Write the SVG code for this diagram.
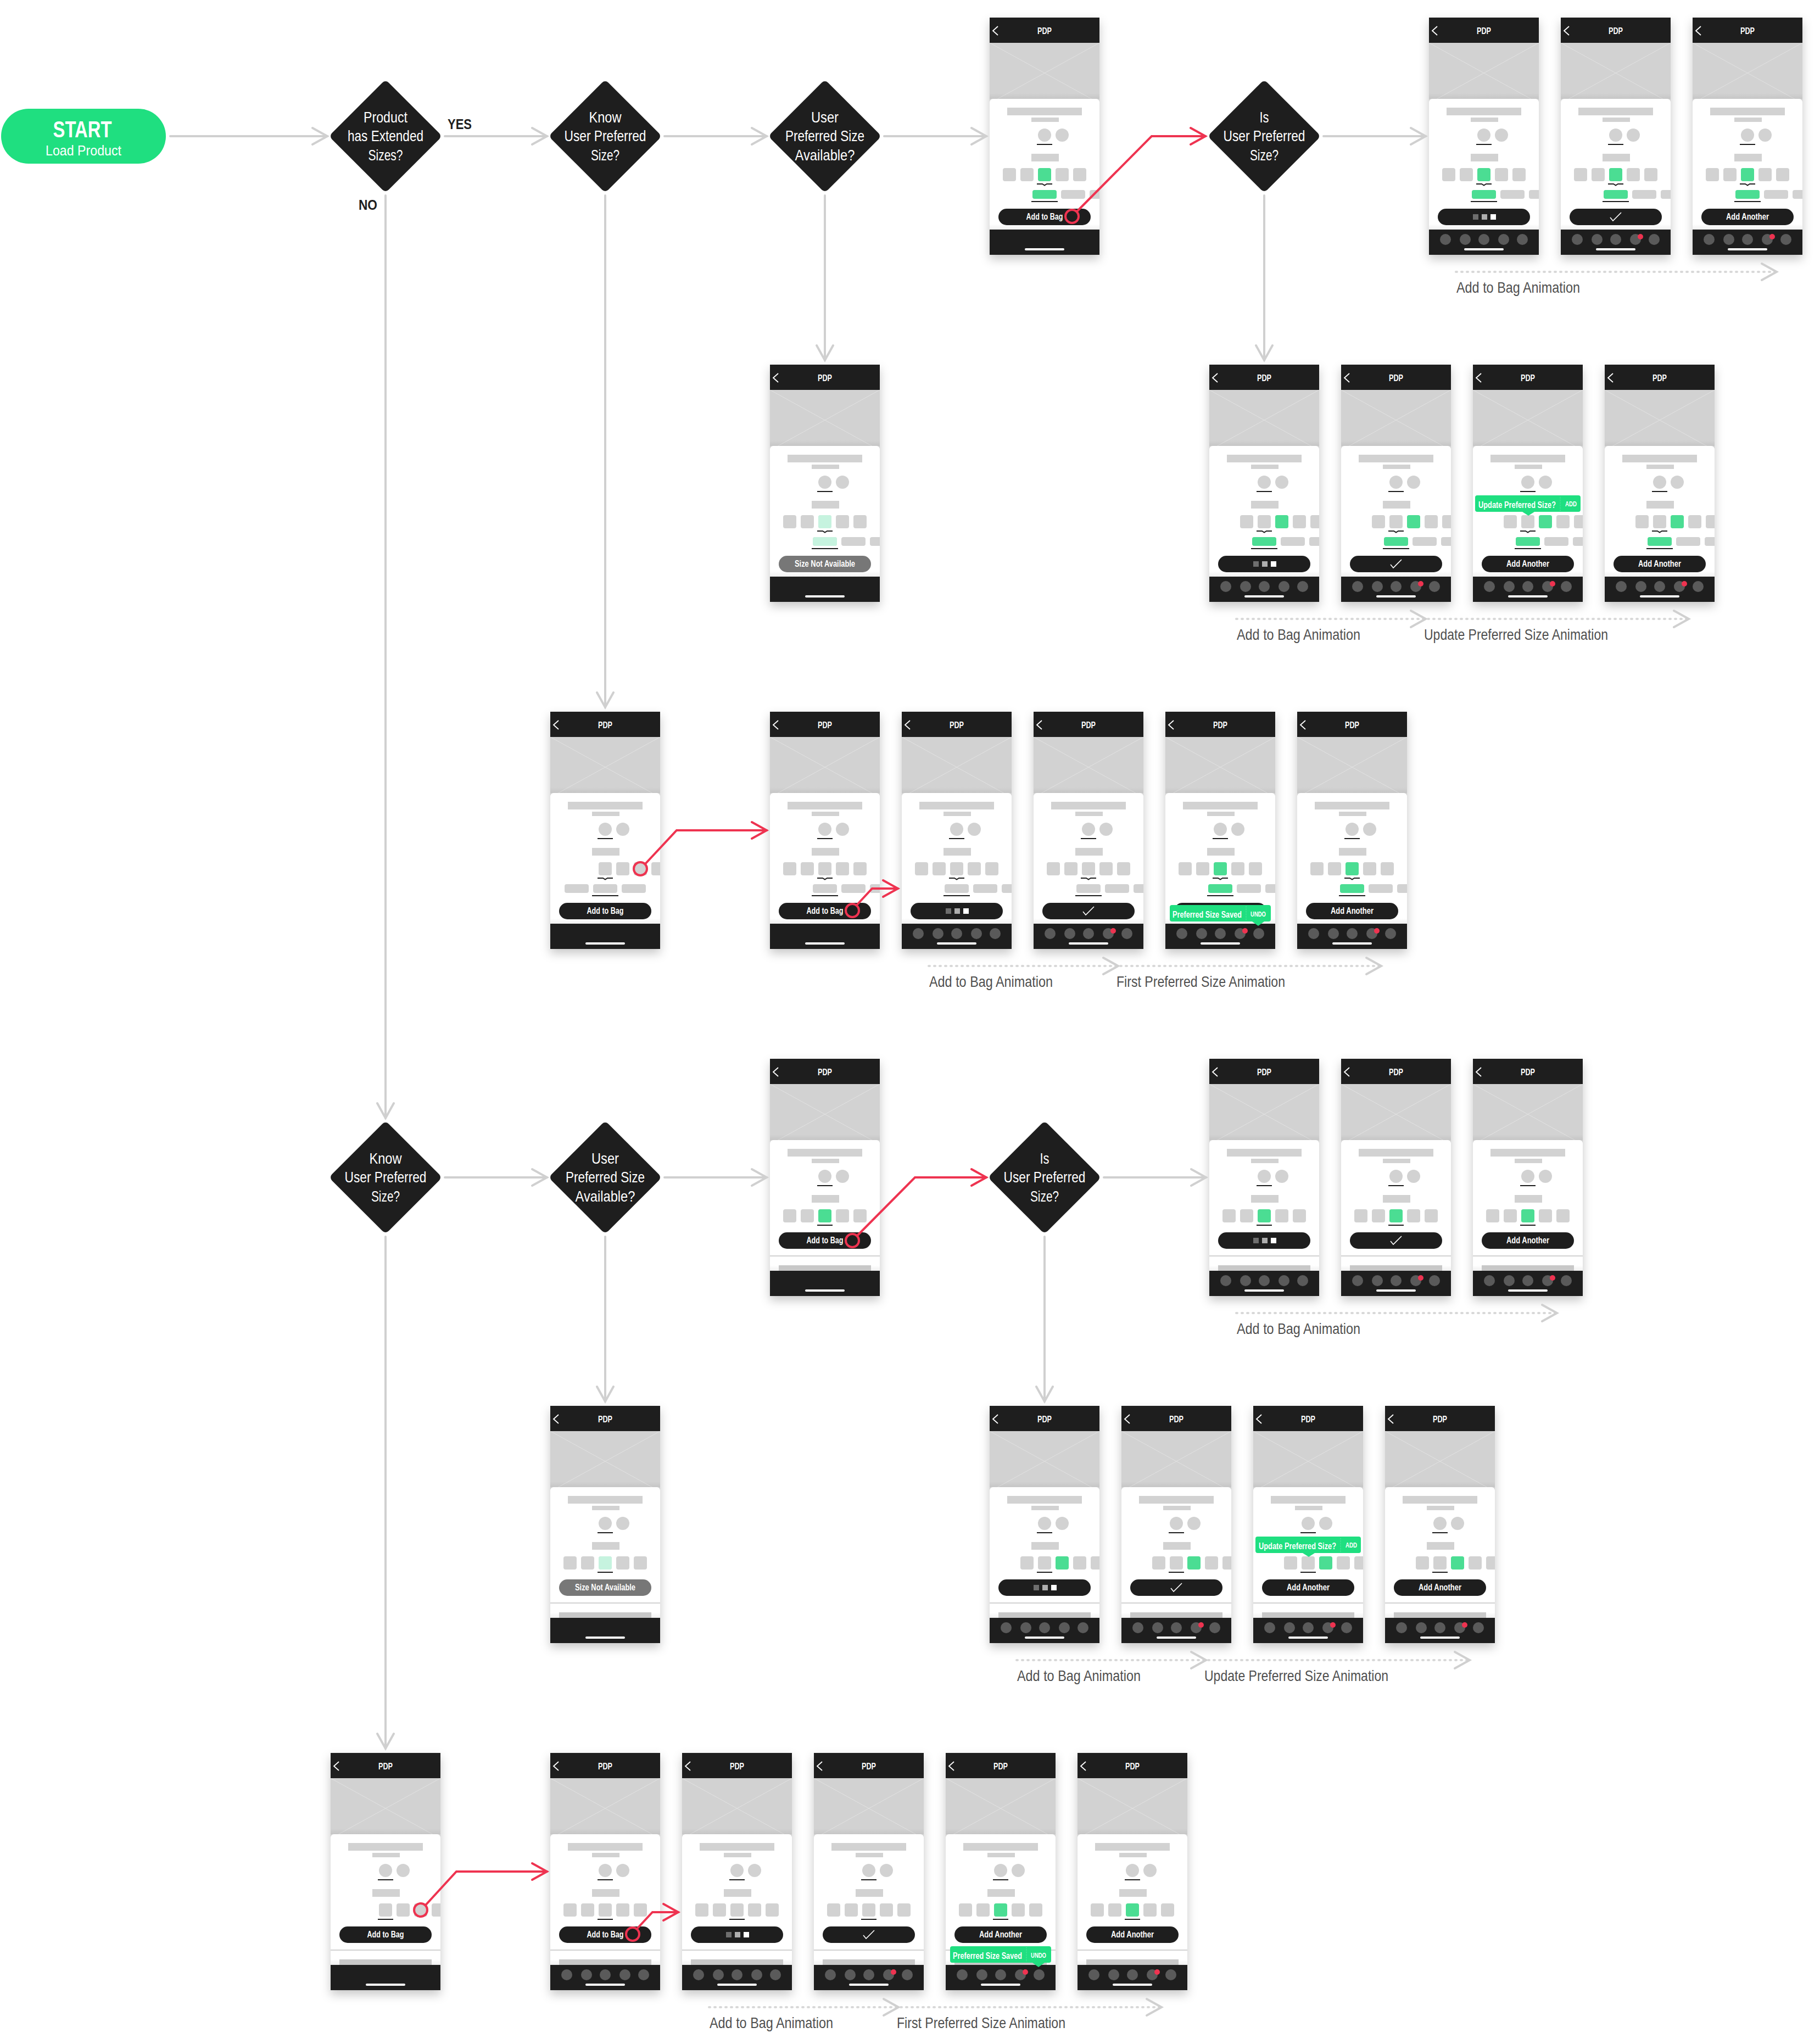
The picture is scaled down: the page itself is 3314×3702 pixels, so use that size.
<svg xmlns="http://www.w3.org/2000/svg" width="3314" height="3702" viewBox="0 0 3314 3702">
<style>
.c{font-family:"Liberation Sans Narrow","Liberation Sans",sans-serif;text-anchor:middle;fill:#fff}
.pdp{font-size:16.5px;font-weight:700}
.bt{font-size:17px;font-weight:700}
.sm{font-size:13px;font-weight:700}
.dt{font-size:28px}
.lb{font-family:"Liberation Sans Narrow","Liberation Sans",sans-serif;font-size:28px;fill:#505050}
.yn{font-family:"Liberation Sans Narrow","Liberation Sans",sans-serif;font-size:26px;font-weight:700;fill:#1e1e1e;text-anchor:middle}
.g{fill:#d2d2d2}
.d{fill:#1e1e1e}
.gn{fill:#4bdd93}
.pl{fill:#c6f3df}
.ln{fill:none;stroke:#d0d0d0;stroke-width:4;stroke-linecap:round;marker-end:url(#ag)}
.dash{fill:none;stroke:#d8d8d8;stroke-width:4;stroke-linecap:round;stroke-dasharray:2 8;marker-end:url(#ag)}
.rd{fill:none;stroke:#ee3350;stroke-width:4;stroke-linecap:round;stroke-linejoin:miter;marker-end:url(#ar)}
.ring{fill:none;stroke:#ee3350;stroke-width:4}
</style>
<defs>
<filter id="sh" x="-20%" y="-10%" width="140%" height="125%"><feDropShadow dx="0" dy="8" stdDeviation="9" flood-color="#000" flood-opacity=".22"/></filter>
<linearGradient id="fade" x1="0" y1="0" x2="0" y2="1"><stop offset="0" stop-color="#000" stop-opacity="0"/><stop offset="1" stop-color="#000" stop-opacity=".06"/></linearGradient>
<marker id="ag" markerUnits="userSpaceOnUse" markerWidth="40" markerHeight="40" refX="32" refY="20" orient="auto"><path d="M5 5L32 20L5 35" fill="none" stroke="#d0d0d0" stroke-width="4" stroke-linecap="round"/></marker>
<marker id="ar" markerUnits="userSpaceOnUse" markerWidth="40" markerHeight="40" refX="32" refY="20" orient="auto"><path d="M5 5L32 20L5 35" fill="none" stroke="#ee3350" stroke-width="4" stroke-linecap="round"/></marker>
<g id="base">
<rect width="200" height="432" fill="#fff" filter="url(#sh)"/>
<rect y="46" width="200" height="110" class="g"/>
<path d="M0 46L200 156M200 46L0 156" stroke="#e2e2e2" stroke-width="1" fill="none"/>
<rect y="138" width="200" height="10" fill="url(#fade)"/>
<path d="M0 386V154a6 6 0 0 1 6-6H194a6 6 0 0 1 6 6V386Z" fill="#fff"/>
<rect y="376" width="200" height="10" fill="url(#fade)"/>
<rect width="200" height="46" class="d"/>
<path d="M15 16L6 24L15 32" fill="none" stroke="#fff" stroke-width="1.8"/>
<rect x="32" y="164" width="136" height="14" class="g"/>
<rect x="76" y="182" width="50" height="8" class="g"/>
<circle cx="100" cy="214" r="12" class="g"/><circle cx="132" cy="214" r="12" class="g"/>
<rect x="86" y="230" width="28" height="2" class="d"/>
<rect x="76" y="248" width="50" height="14" class="g"/>
<rect y="386" width="200" height="46" class="d"/>
<rect x="64" y="420" width="72" height="4" rx="2" fill="#fff"/>
</g>
<g id="sz0"><rect x="24" y="274" width="24" height="24" rx="4" class="g"/><rect x="56" y="274" width="24" height="24" rx="4" class="g"/><rect x="88" y="274" width="24" height="24" rx="4" class="g"/><rect x="120" y="274" width="24" height="24" rx="4" class="g"/><rect x="152" y="274" width="24" height="24" rx="4" class="g"/></g>
<g id="sz1"><rect x="56" y="274" width="24" height="24" rx="4" class="g"/><rect x="88" y="274" width="24" height="24" rx="4" class="g"/><rect x="120" y="274" width="24" height="24" rx="4" class="g"/><rect x="152" y="274" width="24" height="24" rx="4" class="g"/><path d="M200 274H188a4 4 0 0 0-4 4V294a4 4 0 0 0 4 4H200Z" class="g"/></g>
<g id="sz2"><rect x="88" y="274" width="24" height="24" rx="4" class="g"/><rect x="120" y="274" width="24" height="24" rx="4" class="g"/><rect x="152" y="274" width="24" height="24" rx="4" class="g"/><path d="M200 274H188a4 4 0 0 0-4 4V294a4 4 0 0 0 4 4H200Z" class="g"/></g>
<g id="col0"><rect x="78" y="314" width="44" height="16" rx="4" class="g"/><rect x="130" y="314" width="44" height="16" rx="4" class="g"/><path d="M200 314H186a4 4 0 0 0-4 4V326a4 4 0 0 0 4 4H200Z" class="g"/></g>
<g id="col2"><rect x="26" y="314" width="44" height="16" rx="4" class="g"/><rect x="78" y="314" width="44" height="16" rx="4" class="g"/><rect x="130" y="314" width="44" height="16" rx="4" class="g"/></g>
<g id="ext"><path d="M86 303H96L100 305.5L104 303H114" fill="none" stroke="#1e1e1e" stroke-width="2"/><rect x="76" y="334" width="48" height="2" class="d"/></g>
<g id="flat"><rect x="86" y="302" width="28" height="2" class="d"/><rect y="358" width="200" height="2" class="g"/><rect x="16" y="376" width="168" height="10" fill="#c8c8c8"/></g>
<g id="p-e0"><use href="#base"/><use href="#sz0"/><use href="#col0"/><use href="#ext"/></g>
<g id="p-e1"><use href="#base"/><use href="#sz1"/><use href="#col0"/><use href="#ext"/></g>
<g id="p-e2"><use href="#base"/><use href="#sz2"/><use href="#col2"/><use href="#ext"/></g>
<g id="p-f0"><use href="#base"/><use href="#sz0"/><use href="#flat"/></g>
<g id="p-f1"><use href="#base"/><use href="#sz1"/><use href="#flat"/></g>
<g id="p-f2"><use href="#base"/><use href="#sz2"/><use href="#flat"/></g>
<rect id="g88" x="88" y="274" width="24" height="24" rx="4" class="gn"/>
<rect id="g120" x="120" y="274" width="24" height="24" rx="4" class="gn"/>
<rect id="gc" x="78" y="314" width="44" height="16" rx="4" class="gn"/>
<rect id="btn" x="16" width="168" height="30" rx="15" class="d"/>
<g id="load"><rect x="80" y="-5" width="10" height="10" fill="#6e6e6e"/><rect x="96" y="-5" width="10" height="10" fill="#aeaeae"/><rect x="112" y="-5" width="10" height="10" fill="#fff"/></g>
<path id="check" d="M90 1L95 7L110 -8" fill="none" stroke="#fff" stroke-width="1.6"/>
<g id="nav"><circle cx="30" cy="404" r="10" fill="#5a5a5a"/><circle cx="66" cy="404" r="10" fill="#5a5a5a"/><circle cx="100" cy="404" r="10" fill="#5a5a5a"/><circle cx="136" cy="404" r="10" fill="#5a5a5a"/><circle cx="170" cy="404" r="10" fill="#5a5a5a"/></g>
<g id="navb"><use href="#nav"/><circle cx="145" cy="399" r="5" fill="#ee3350"/></g>
<g id="tip"><rect x="4" y="238" width="192" height="30" rx="4" fill="#1fdf80"/><path d="M90 268L101 275L112 268Z" fill="#1fdf80"/><path d="M159 241V266" stroke="#7eeebb" stroke-width="1" stroke-dasharray="1 2"/></g>
<g id="toast"><rect x="8" y="352" width="184" height="30" rx="4" fill="#1fdf80"/><path d="M158 382L169 390L180 382Z" fill="#1fdf80"/><path d="M147 354V380" stroke="#7eeebb" stroke-width="1" stroke-dasharray="1 2"/></g>
<rect id="dia" x="-73" y="-73" width="146" height="146" rx="8" transform="rotate(45)" class="d"/>
</defs>

<g id="start"><rect x="2" y="198" width="300" height="100" rx="50" fill="#1fdf80"/><text class="c" x="150" y="250" font-size="42" font-weight="700" textLength="107" lengthAdjust="spacingAndGlyphs">START</text><text class="c" x="152" y="283" font-size="26" textLength="138" lengthAdjust="spacingAndGlyphs">Load Product</text></g>

<g id="d1" transform="translate(702,248)"><use href="#dia"/><text class="c dt" y="-25" textLength="80" lengthAdjust="spacingAndGlyphs">Product</text><text class="c dt" y="9" textLength="138" lengthAdjust="spacingAndGlyphs">has Extended</text><text class="c dt" y="44" textLength="63" lengthAdjust="spacingAndGlyphs">Sizes?</text></g>
<g id="d2" transform="translate(1102,248)"><use href="#dia"/><text class="c dt" y="-25" textLength="59" lengthAdjust="spacingAndGlyphs">Know</text><text class="c dt" y="9" textLength="149" lengthAdjust="spacingAndGlyphs">User Preferred</text><text class="c dt" y="44" textLength="52" lengthAdjust="spacingAndGlyphs">Size?</text></g>
<g id="d3" transform="translate(1502,248)"><use href="#dia"/><text class="c dt" y="-25" textLength="50" lengthAdjust="spacingAndGlyphs">User</text><text class="c dt" y="9" textLength="144" lengthAdjust="spacingAndGlyphs">Preferred Size</text><text class="c dt" y="44" textLength="109" lengthAdjust="spacingAndGlyphs">Available?</text></g>
<g id="d4" transform="translate(2302,248)"><use href="#dia"/><text class="c dt" y="-25" textLength="17" lengthAdjust="spacingAndGlyphs">Is</text><text class="c dt" y="9" textLength="149" lengthAdjust="spacingAndGlyphs">User Preferred</text><text class="c dt" y="44" textLength="52" lengthAdjust="spacingAndGlyphs">Size?</text></g>
<g id="d5" transform="translate(702,2144)"><use href="#dia"/><text class="c dt" y="-25" textLength="59" lengthAdjust="spacingAndGlyphs">Know</text><text class="c dt" y="9" textLength="149" lengthAdjust="spacingAndGlyphs">User Preferred</text><text class="c dt" y="44" textLength="52" lengthAdjust="spacingAndGlyphs">Size?</text></g>
<g id="d6" transform="translate(1102,2144)"><use href="#dia"/><text class="c dt" y="-25" textLength="50" lengthAdjust="spacingAndGlyphs">User</text><text class="c dt" y="9" textLength="144" lengthAdjust="spacingAndGlyphs">Preferred Size</text><text class="c dt" y="44" textLength="109" lengthAdjust="spacingAndGlyphs">Available?</text></g>
<g id="d7" transform="translate(1902,2144)"><use href="#dia"/><text class="c dt" y="-25" textLength="17" lengthAdjust="spacingAndGlyphs">Is</text><text class="c dt" y="9" textLength="149" lengthAdjust="spacingAndGlyphs">User Preferred</text><text class="c dt" y="44" textLength="52" lengthAdjust="spacingAndGlyphs">Size?</text></g>

<g id="edge-labels"><text class="yn" x="837" y="235" textLength="44" lengthAdjust="spacingAndGlyphs">YES</text><text class="yn" x="670" y="382" textLength="34" lengthAdjust="spacingAndGlyphs">NO</text></g>

<g id="phone-1-1" transform="translate(1802,32)"><use href="#p-e0"/><use href="#g88"/><use href="#gc"/><use href="#btn" y="348"/><text class="c bt" x="100" y="368" textLength="67" lengthAdjust="spacingAndGlyphs">Add to Bag</text><text class="c pdp" x="100" y="30" textLength="26" lengthAdjust="spacingAndGlyphs">PDP</text></g>
<g id="phone-1-2" transform="translate(2602,32)"><use href="#p-e0"/><use href="#g88"/><use href="#gc"/><use href="#btn" y="348"/><use href="#load" y="363"/><use href="#nav"/><text class="c pdp" x="100" y="30" textLength="26" lengthAdjust="spacingAndGlyphs">PDP</text></g>
<g id="phone-1-3" transform="translate(2842,32)"><use href="#p-e0"/><use href="#g88"/><use href="#gc"/><use href="#btn" y="348"/><use href="#check" y="363"/><use href="#navb"/><text class="c pdp" x="100" y="30" textLength="26" lengthAdjust="spacingAndGlyphs">PDP</text></g>
<g id="phone-1-4" transform="translate(3082,32)"><use href="#p-e0"/><use href="#g88"/><use href="#gc"/><use href="#btn" y="348"/><use href="#navb"/><text class="c bt" x="100" y="368" textLength="78" lengthAdjust="spacingAndGlyphs">Add Another</text><text class="c pdp" x="100" y="30" textLength="26" lengthAdjust="spacingAndGlyphs">PDP</text></g>

<g id="phone-2-1" transform="translate(1402,664)"><use href="#p-e0"/><rect x="88" y="274" width="24" height="24" rx="4" class="pl"/><rect x="78" y="314" width="44" height="16" rx="4" class="pl"/><rect x="16" y="348" width="168" height="30" rx="15" fill="#777"/><text class="c bt" x="100" y="368" textLength="110" lengthAdjust="spacingAndGlyphs">Size Not Available</text><text class="c pdp" x="100" y="30" textLength="26" lengthAdjust="spacingAndGlyphs">PDP</text></g>
<g id="phone-2-2" transform="translate(2202,664)"><use href="#p-e1"/><use href="#g120"/><use href="#gc"/><use href="#btn" y="348"/><use href="#load" y="363"/><use href="#nav"/><text class="c pdp" x="100" y="30" textLength="26" lengthAdjust="spacingAndGlyphs">PDP</text></g>
<g id="phone-2-3" transform="translate(2442,664)"><use href="#p-e1"/><use href="#g120"/><use href="#gc"/><use href="#btn" y="348"/><use href="#check" y="363"/><use href="#navb"/><text class="c pdp" x="100" y="30" textLength="26" lengthAdjust="spacingAndGlyphs">PDP</text></g>
<g id="phone-2-4" transform="translate(2682,664)"><use href="#p-e1"/><use href="#g120"/><use href="#gc"/><use href="#btn" y="348"/><use href="#navb"/><use href="#tip"/><text class="c bt" transform="translate(80.5,261) scale(.754,1)">Update Preferred Size?</text><text class="c sm" transform="translate(178.5,258) scale(.75,1)">ADD</text><text class="c bt" x="100" y="368" textLength="78" lengthAdjust="spacingAndGlyphs">Add Another</text><text class="c pdp" x="100" y="30" textLength="26" lengthAdjust="spacingAndGlyphs">PDP</text></g>
<g id="phone-2-5" transform="translate(2922,664)"><use href="#p-e1"/><use href="#g120"/><use href="#gc"/><use href="#btn" y="348"/><use href="#navb"/><text class="c bt" x="100" y="368" textLength="78" lengthAdjust="spacingAndGlyphs">Add Another</text><text class="c pdp" x="100" y="30" textLength="26" lengthAdjust="spacingAndGlyphs">PDP</text></g>

<g id="phone-3-1" transform="translate(1002,1296)"><use href="#p-e2"/><use href="#btn" y="348"/><text class="c bt" x="100" y="368" textLength="67" lengthAdjust="spacingAndGlyphs">Add to Bag</text><text class="c pdp" x="100" y="30" textLength="26" lengthAdjust="spacingAndGlyphs">PDP</text></g>
<g id="phone-3-2" transform="translate(1402,1296)"><use href="#p-e0"/><use href="#btn" y="348"/><text class="c bt" x="100" y="368" textLength="67" lengthAdjust="spacingAndGlyphs">Add to Bag</text><text class="c pdp" x="100" y="30" textLength="26" lengthAdjust="spacingAndGlyphs">PDP</text></g>
<g id="phone-3-3" transform="translate(1642,1296)"><use href="#p-e0"/><use href="#btn" y="348"/><use href="#load" y="363"/><use href="#nav"/><text class="c pdp" x="100" y="30" textLength="26" lengthAdjust="spacingAndGlyphs">PDP</text></g>
<g id="phone-3-4" transform="translate(1882,1296)"><use href="#p-e0"/><use href="#btn" y="348"/><use href="#check" y="363"/><use href="#navb"/><text class="c pdp" x="100" y="30" textLength="26" lengthAdjust="spacingAndGlyphs">PDP</text></g>
<g id="phone-3-5" transform="translate(2122,1296)"><use href="#p-e0"/><use href="#g88"/><use href="#gc"/><use href="#btn" y="348"/><use href="#navb"/><use href="#toast"/><text class="c bt" transform="translate(76,375) scale(.745,1)">Preferred Size Saved</text><text class="c sm" transform="translate(169,373) scale(.73,1)">UNDO</text><text class="c pdp" x="100" y="30" textLength="26" lengthAdjust="spacingAndGlyphs">PDP</text></g>
<g id="phone-3-6" transform="translate(2362,1296)"><use href="#p-e0"/><use href="#g88"/><use href="#gc"/><use href="#btn" y="348"/><use href="#navb"/><text class="c bt" x="100" y="368" textLength="78" lengthAdjust="spacingAndGlyphs">Add Another</text><text class="c pdp" x="100" y="30" textLength="26" lengthAdjust="spacingAndGlyphs">PDP</text></g>

<g id="phone-4-1" transform="translate(1402,1928)"><use href="#p-f0"/><use href="#g88"/><use href="#btn" y="316"/><text class="c bt" x="100" y="336" textLength="67" lengthAdjust="spacingAndGlyphs">Add to Bag</text><text class="c pdp" x="100" y="30" textLength="26" lengthAdjust="spacingAndGlyphs">PDP</text></g>
<g id="phone-4-2" transform="translate(2202,1928)"><use href="#p-f0"/><use href="#g88"/><use href="#btn" y="316"/><use href="#load" y="331"/><use href="#nav"/><text class="c pdp" x="100" y="30" textLength="26" lengthAdjust="spacingAndGlyphs">PDP</text></g>
<g id="phone-4-3" transform="translate(2442,1928)"><use href="#p-f0"/><use href="#g88"/><use href="#btn" y="316"/><use href="#check" y="331"/><use href="#navb"/><text class="c pdp" x="100" y="30" textLength="26" lengthAdjust="spacingAndGlyphs">PDP</text></g>
<g id="phone-4-4" transform="translate(2682,1928)"><use href="#p-f0"/><use href="#g88"/><use href="#btn" y="316"/><use href="#navb"/><text class="c bt" x="100" y="336" textLength="78" lengthAdjust="spacingAndGlyphs">Add Another</text><text class="c pdp" x="100" y="30" textLength="26" lengthAdjust="spacingAndGlyphs">PDP</text></g>

<g id="phone-5-1" transform="translate(1002,2560)"><use href="#p-f0"/><rect x="88" y="274" width="24" height="24" rx="4" class="pl"/><rect x="16" y="316" width="168" height="30" rx="15" fill="#777"/><text class="c bt" x="100" y="336" textLength="110" lengthAdjust="spacingAndGlyphs">Size Not Available</text><text class="c pdp" x="100" y="30" textLength="26" lengthAdjust="spacingAndGlyphs">PDP</text></g>
<g id="phone-5-2" transform="translate(1802,2560)"><use href="#p-f1"/><use href="#g120"/><use href="#btn" y="316"/><use href="#load" y="331"/><use href="#nav"/><text class="c pdp" x="100" y="30" textLength="26" lengthAdjust="spacingAndGlyphs">PDP</text></g>
<g id="phone-5-3" transform="translate(2042,2560)"><use href="#p-f1"/><use href="#g120"/><use href="#btn" y="316"/><use href="#check" y="331"/><use href="#navb"/><text class="c pdp" x="100" y="30" textLength="26" lengthAdjust="spacingAndGlyphs">PDP</text></g>
<g id="phone-5-4" transform="translate(2282,2560)"><use href="#p-f1"/><use href="#g120"/><use href="#btn" y="316"/><use href="#navb"/><use href="#tip"/><text class="c bt" transform="translate(80.5,261) scale(.754,1)">Update Preferred Size?</text><text class="c sm" transform="translate(178.5,258) scale(.75,1)">ADD</text><text class="c bt" x="100" y="336" textLength="78" lengthAdjust="spacingAndGlyphs">Add Another</text><text class="c pdp" x="100" y="30" textLength="26" lengthAdjust="spacingAndGlyphs">PDP</text></g>
<g id="phone-5-5" transform="translate(2522,2560)"><use href="#p-f1"/><use href="#g120"/><use href="#btn" y="316"/><use href="#navb"/><text class="c bt" x="100" y="336" textLength="78" lengthAdjust="spacingAndGlyphs">Add Another</text><text class="c pdp" x="100" y="30" textLength="26" lengthAdjust="spacingAndGlyphs">PDP</text></g>

<g id="phone-6-1" transform="translate(602,3192)"><use href="#p-f2"/><use href="#btn" y="316"/><text class="c bt" x="100" y="336" textLength="67" lengthAdjust="spacingAndGlyphs">Add to Bag</text><text class="c pdp" x="100" y="30" textLength="26" lengthAdjust="spacingAndGlyphs">PDP</text></g>
<g id="phone-6-2" transform="translate(1002,3192)"><use href="#p-f0"/><use href="#btn" y="316"/><text class="c bt" x="100" y="336" textLength="67" lengthAdjust="spacingAndGlyphs">Add to Bag</text><use href="#nav"/><text class="c pdp" x="100" y="30" textLength="26" lengthAdjust="spacingAndGlyphs">PDP</text></g>
<g id="phone-6-3" transform="translate(1242,3192)"><use href="#p-f0"/><use href="#btn" y="316"/><use href="#load" y="331"/><use href="#nav"/><text class="c pdp" x="100" y="30" textLength="26" lengthAdjust="spacingAndGlyphs">PDP</text></g>
<g id="phone-6-4" transform="translate(1482,3192)"><use href="#p-f0"/><use href="#btn" y="316"/><use href="#check" y="331"/><use href="#navb"/><text class="c pdp" x="100" y="30" textLength="26" lengthAdjust="spacingAndGlyphs">PDP</text></g>
<g id="phone-6-5" transform="translate(1722,3192)"><use href="#p-f0"/><use href="#g88"/><use href="#btn" y="316"/><use href="#navb"/><use href="#toast"/><text class="c bt" transform="translate(76,375) scale(.745,1)">Preferred Size Saved</text><text class="c sm" transform="translate(169,373) scale(.73,1)">UNDO</text><text class="c bt" x="100" y="336" textLength="78" lengthAdjust="spacingAndGlyphs">Add Another</text><text class="c pdp" x="100" y="30" textLength="26" lengthAdjust="spacingAndGlyphs">PDP</text></g>
<g id="phone-6-6" transform="translate(1962,3192)"><use href="#p-f0"/><use href="#g88"/><use href="#btn" y="316"/><use href="#navb"/><text class="c bt" x="100" y="336" textLength="78" lengthAdjust="spacingAndGlyphs">Add Another</text><text class="c pdp" x="100" y="30" textLength="26" lengthAdjust="spacingAndGlyphs">PDP</text></g>

<g id="connectors">
<path class="ln" d="M310 248H596"/><path class="ln" d="M810 248H996"/><path class="ln" d="M1210 248H1396"/><path class="ln" d="M1610 248H1796"/><path class="ln" d="M2410 248H2596"/>
<path class="ln" d="M702 356V2036"/><path class="ln" d="M1102 356V1288"/><path class="ln" d="M1502 356V656"/><path class="ln" d="M2302 356V656"/>
<path class="ln" d="M810 2144H996"/><path class="ln" d="M1210 2144H1396"/><path class="ln" d="M2010 2144H2196"/>
<path class="ln" d="M702 2252V3184"/><path class="ln" d="M1102 2252V2552"/><path class="ln" d="M1902 2252V2552"/>
<path class="rd" d="M1961 385L2097 248H2195"/><circle class="ring" cx="1952" cy="394" r="12"/>
<path class="rd" d="M1175 1573L1232 1512H1396"/><circle class="ring" cx="1166" cy="1582" r="12"/>
<path class="rd" d="M1561 1647L1588 1618H1635"/><circle class="ring" cx="1552" cy="1658" r="12"/>
<path class="rd" d="M1561 2250L1666 2144H1796"/><circle class="ring" cx="1552" cy="2259" r="12"/>
<path class="rd" d="M775 3469L831 3408H996"/><circle class="ring" cx="766" cy="3478" r="12"/>
<path class="rd" d="M1161 3511L1188 3482H1235"/><circle class="ring" cx="1152" cy="3522" r="12"/>
<path class="dash" d="M2651 495H3235"/>
<path class="dash" d="M2251 1127H2596"/><path class="dash" d="M2600 1127H3075"/>
<path class="dash" d="M1691 1759H2036"/><path class="dash" d="M2040 1759H2515"/>
<path class="dash" d="M2251 2391H2835"/>
<path class="dash" d="M1851 3023H2196"/><path class="dash" d="M2200 3023H2676"/>
<path class="dash" d="M1291 3655H1636"/><path class="dash" d="M1640 3655H2115"/>
</g>

<g id="animation-labels">
<text class="lb" x="2652" y="533" textLength="225" lengthAdjust="spacingAndGlyphs">Add to Bag Animation</text>
<text class="lb" x="2252" y="1165" textLength="225" lengthAdjust="spacingAndGlyphs">Add to Bag Animation</text>
<text class="lb" x="2593" y="1165" textLength="335" lengthAdjust="spacingAndGlyphs">Update Preferred Size Animation</text>
<text class="lb" x="1692" y="1797" textLength="225" lengthAdjust="spacingAndGlyphs">Add to Bag Animation</text>
<text class="lb" x="2033" y="1797" textLength="307" lengthAdjust="spacingAndGlyphs">First Preferred Size Animation</text>
<text class="lb" x="2252" y="2429" textLength="225" lengthAdjust="spacingAndGlyphs">Add to Bag Animation</text>
<text class="lb" x="1852" y="3061" textLength="225" lengthAdjust="spacingAndGlyphs">Add to Bag Animation</text>
<text class="lb" x="2193" y="3061" textLength="335" lengthAdjust="spacingAndGlyphs">Update Preferred Size Animation</text>
<text class="lb" x="1292" y="3693" textLength="225" lengthAdjust="spacingAndGlyphs">Add to Bag Animation</text>
<text class="lb" x="1633" y="3693" textLength="307" lengthAdjust="spacingAndGlyphs">First Preferred Size Animation</text>
</g>
</svg>
